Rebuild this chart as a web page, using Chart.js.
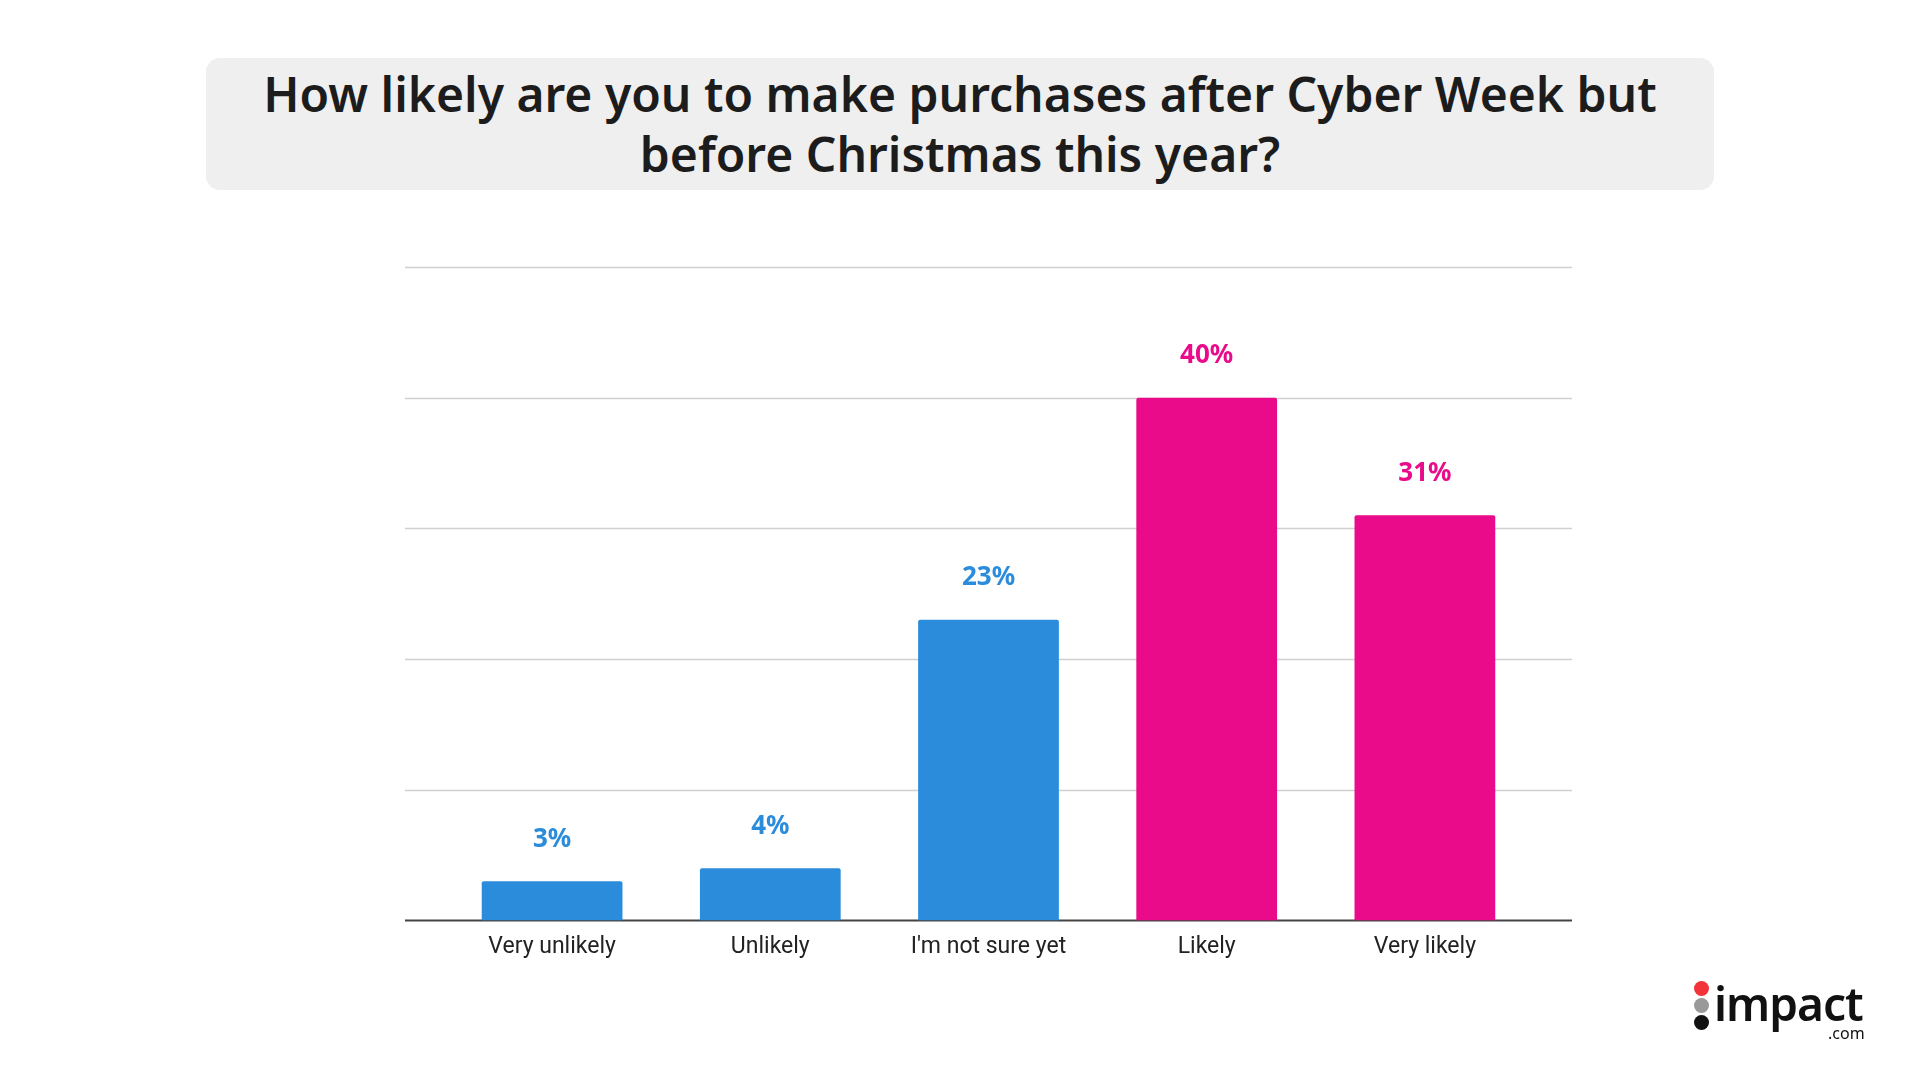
<!DOCTYPE html>
<html>
<head>
<meta charset="utf-8">
<script src="https://cdn.jsdelivr.net/npm/chart.js@4"></script>
<style>
  body { margin: 0; width: 1920px; height: 1080px; background: #fff; position: relative; overflow: hidden; font-family: "Open Sans", sans-serif; }
  #title { position: absolute; left: 206px; top: 58px; width: 1508px; height: 132px; background: #efefef; border-radius: 14px;
    display: flex; align-items: center; justify-content: center; text-align: center;
    font-family: "Noto Sans", sans-serif; font-weight: 600; font-size: 48px; line-height: 60px; color: #1c1c1c; }
  #wrap { position: absolute; left: 300px; top: 250px; width: 1400px; height: 740px; }
  #logo { position: absolute; left: 1692px; top: 978px; width: 190px; height: 70px; font-family: "Noto Sans", sans-serif; }
  #logo .word { font-size: 46px; font-weight: 600; color: #111; letter-spacing: -1px; line-height: 48px; position: absolute; left: 22px; top: 1px; }
  #logo .com { position: absolute; left: 136px; top: 46px; font-size: 16px; line-height: 18px; color: #111; }
  #logo .d1 { position: absolute; left: 2px; top: 3px; width: 15px; height: 15px; border-radius: 50%; background: #f2333a; }
  #logo .d2 { position: absolute; left: 2px; top: 20px; width: 15px; height: 15px; border-radius: 50%; background: #999; }
  #logo .d3 { position: absolute; left: 2px; top: 37px; width: 15px; height: 15px; border-radius: 50%; background: #111; }
</style>
</head>
<body>
<div id="title">How likely are you to make purchases after Cyber Week but<br>before Christmas this year?</div>
<div id="wrap"><canvas id="myChart" width="1400" height="740"></canvas></div>
<div id="logo"><div class="d1"></div><div class="d2"></div><div class="d3"></div><div class="word">impact</div><div class="com">.com</div></div>
<script>
const categories = ['Very unlikely', 'Unlikely', "I'm not sure yet", 'Likely', 'Very likely'];
const values = [3, 4, 23, 40, 31];
const barColors = ['#2b8cdb', '#2b8cdb', '#2b8cdb', '#e90b8a', '#e90b8a'];
const yTicks = [0, 10, 20, 30, 40, 50];
const gridOverhang = 38;

const ctx = document.getElementById('myChart');

// gridlines reach a bit past the outer bars, like the original
const wideGrid = {
  id: 'wideGrid',
  beforeDatasetsDraw(chart) {
    const c = chart.ctx;
    const y = chart.scales.y;
    const area = chart.chartArea;
    c.save();
    yTicks.forEach(t => {
      const py = Math.round(y.getPixelForValue(t)) + 0.5;
      c.strokeStyle = t === 0 ? '#444' : '#d0d0d0';
      c.lineWidth = t === 0 ? 2 : 1.5;
      c.beginPath();
      c.moveTo(area.left - gridOverhang, py);
      c.lineTo(area.right + gridOverhang, py);
      c.stroke();
    });
    c.restore();
  }
};

const valueLabels = {
  id: 'valueLabels',
  afterDatasetsDraw(chart) {
    const c = chart.ctx;
    const meta = chart.getDatasetMeta(0);
    c.save();
    c.font = 'bold 26px "Noto Sans", sans-serif';
    c.textAlign = 'center';
    c.textBaseline = 'bottom';
    meta.data.forEach((bar, i) => {
      c.fillStyle = barColors[i];
      c.fillText(values[i] + '%', bar.x, bar.y - 29);
    });
    c.restore();
  }
};

new Chart(ctx, {
  type: 'bar',
  data: {
    labels: categories,
    datasets: [{
      data: values,
      backgroundColor: barColors,
      borderRadius: 2,
      borderSkipped: 'bottom',
      categoryPercentage: 1,
      barPercentage: 0.645
    }]
  },
  options: {
    responsive: false,
    maintainAspectRatio: false,
    animation: false,
    layout: { padding: { left: 135, right: 166, top: 17, bottom: 24 } },
    plugins: { legend: { display: false }, tooltip: { enabled: false } },
    scales: {
      x: {
        grid: { display: false },
        border: { display: false },
        ticks: { color: '#222', font: { size: 23, family: 'Roboto' }, padding: 5, maxRotation: 0 }
      },
      y: {
        min: 0, max: 50,
        afterBuildTicks: axis => { axis.ticks = yTicks.map(v => ({ value: v })); },
        ticks: { display: false },
        border: { display: false },
        grid: { display: false }
      }
    }
  },
  plugins: [wideGrid, valueLabels]
});
</script>
</body>
</html>
